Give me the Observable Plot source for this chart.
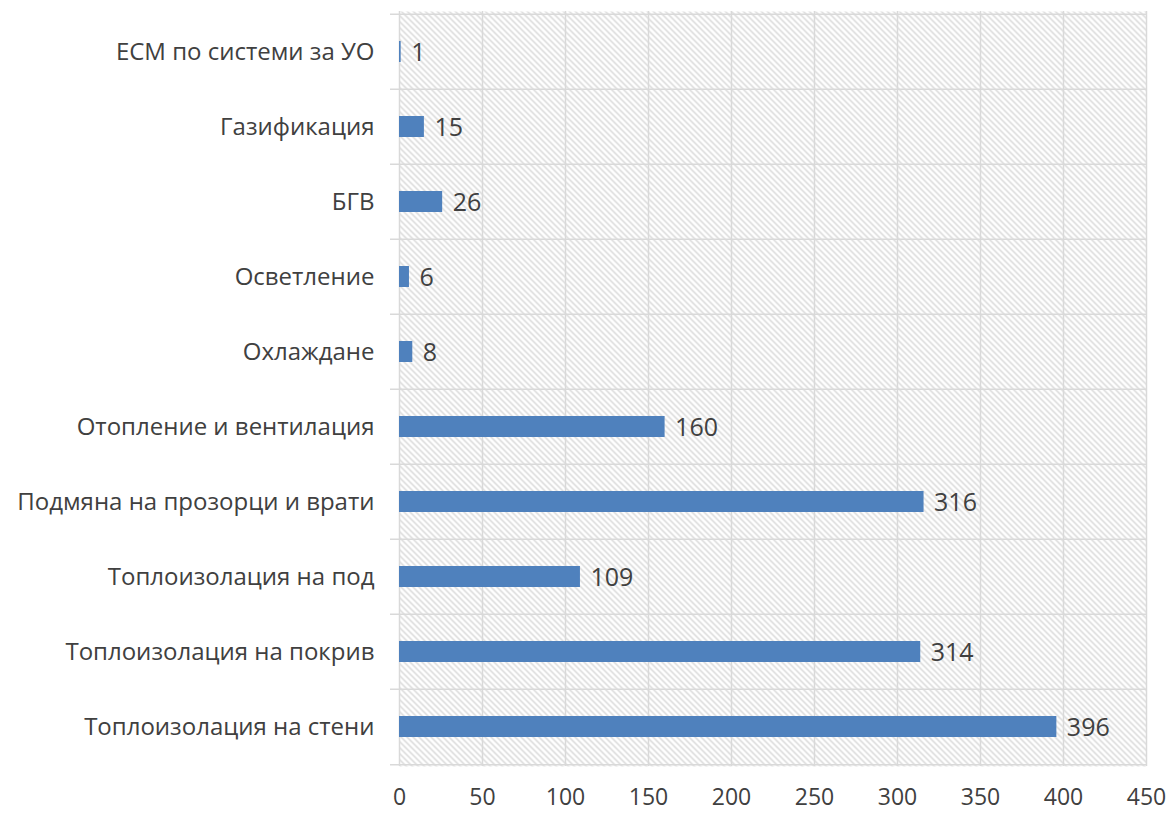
<!DOCTYPE html>
<html><head><meta charset="utf-8">
<script src="https://cdn.jsdelivr.net/npm/d3@7"></script>
<script src="https://cdn.jsdelivr.net/npm/@observablehq/plot@0.6"></script>
<style>
html,body{margin:0;padding:0;background:#fff;}
</style>
</head><body>
<div id="chart"></div>
<script>
const categories = [
  "ЕСМ по системи за УО",
  "Газификация",
  "БГВ",
  "Осветление",
  "Охлаждане",
  "Отопление и вентилация",
  "Подмяна на прозорци и врати",
  "Топлоизолация на под",
  "Топлоизолация на покрив",
  "Топлоизолация на стени"
];
const values = [1, 15, 26, 6, 8, 160, 316, 109, 314, 396];
const xTicks = [0, 50, 100, 150, 200, 250, 300, 350, 400, 450];

const data = categories.map((c, i) => ({category: c, value: values[i]}));

const W = 1172, H = 813;
const mTop = 11, mBottom = 47, mLeft = 399, mRight = 26;
const band = (H - mTop - mBottom) / categories.length;
const gridColor = "#d9d9d9";
const textColor = "#404040";

const plot = Plot.plot({
  width: W,
  height: H,
  marginTop: mTop,
  marginBottom: mBottom,
  marginLeft: mLeft,
  marginRight: mRight,
  style: {fontFamily: "'Open Sans', sans-serif", background: "#fff"},
  x: {domain: [0, 450], ticks: xTicks},
  y: {domain: categories, padding: 0},
  marks: [
    Plot.frame({fill: "url(#hatch)", stroke: null}),
    Plot.gridX(xTicks, {stroke: gridColor, strokeOpacity: 1, strokeWidth: 1.5}),
    Plot.ruleY(categories, {y: d => d, x1: 0, x2: 450, insetLeft: -9, dy: -band / 2, stroke: gridColor, strokeWidth: 1.5}),
    Plot.ruleY(categories.slice(-1), {y: d => d, x1: 0, x2: 450, insetLeft: -9, dy: band / 2, stroke: gridColor, strokeWidth: 1.5}),
    Plot.barX(data, {y: "category", x: "value", fill: "#4f81bd", insetTop: 27, insetBottom: 27}),
    Plot.text(data, {y: "category", x: "value", text: d => String(d.value), dx: 10, dy: 1, textAnchor: "start", fontSize: 25, fill: textColor}),
    Plot.axisY({tickSize: 0, tickPadding: 25, fontSize: 24, color: textColor, label: null}),
    Plot.axisX(xTicks, {tickSize: 0, tickPadding: 22, fontSize: 23, color: textColor, label: null})
  ]
});

const svg = d3.select(plot);
const defs = svg.insert("defs", ":first-child");
const pat = defs.append("pattern")
  .attr("id", "hatch")
  .attr("patternUnits", "userSpaceOnUse")
  .attr("width", 6).attr("height", 6);
pat.append("rect").attr("width", 6).attr("height", 6).attr("fill", "#fff");
pat.append("path")
  .attr("d", "M0,0L6,6M-1,5L1,7M5,-1L7,1")
  .attr("stroke", "#d6d6d6").attr("stroke-width", 1.4);

document.getElementById("chart").appendChild(plot);
</script>
</body></html>
